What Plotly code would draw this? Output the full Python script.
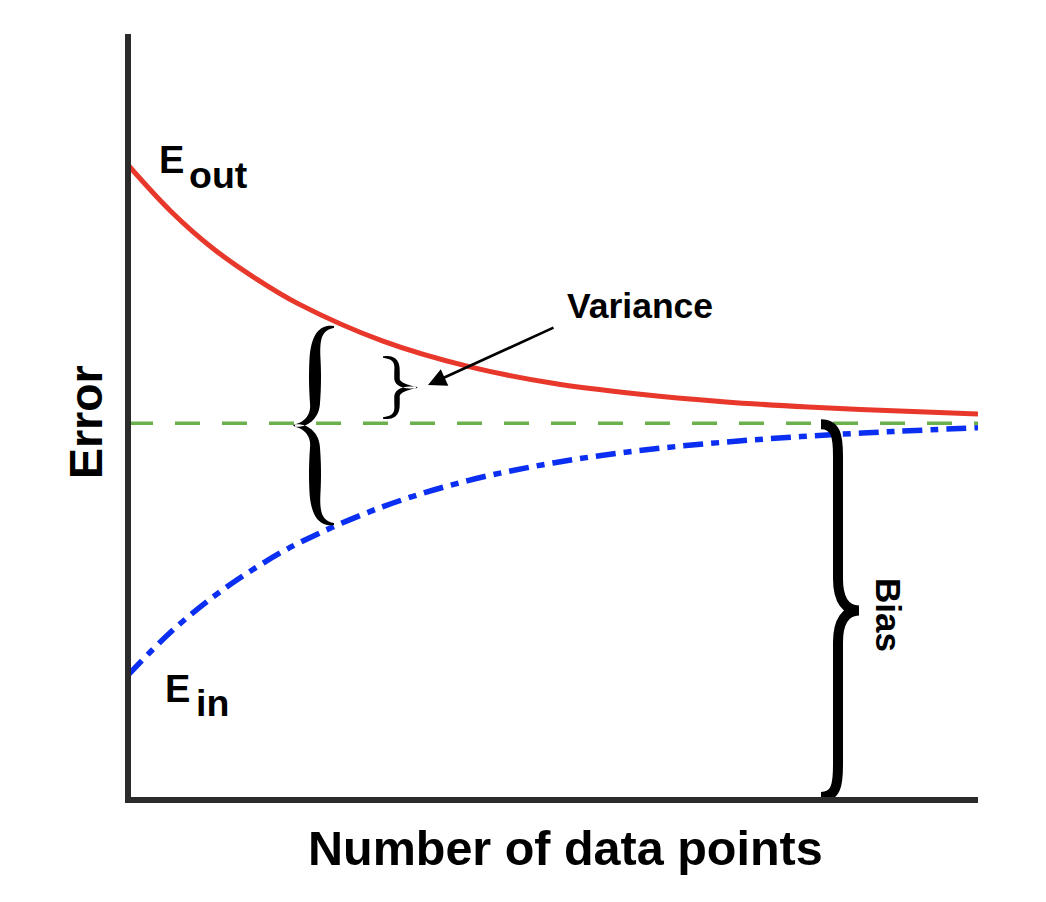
import math
import plotly.graph_objects as go

# ---- data ----
x_pts = [0, 0.5, 1, 1.5, 2, 3, 4, 5, 6, 7, 8, 9, 10]
e_out = [8.29, 7.69, 7.20, 6.81, 6.48, 5.99, 5.66, 5.44, 5.30, 5.20, 5.13, 5.08, 5.04]
e_in = [1.63, 2.19, 2.65, 3.03, 3.35, 3.83, 4.17, 4.40, 4.56, 4.67, 4.75, 4.81, 4.86]
bias_level = 4.92
x_range = [0, 10]
y_range = [0, 10]

# ---- layout geometry (target pixel positions on the page) ----
W, H = 1046, 902
PAGE_OFF = 8                        # default body margin of the html page
PL, PR, PT, PB = 128, 978, 34, 800  # plot area on the page
PW, PH = PR - PL, PB - PT


def px2paper_x(px):
    return (px - PL) / PW


def py2paper_y(py):
    return (PB - py) / PH


def data2paper_y(v):
    return (v - y_range[0]) / (y_range[1] - y_range[0])


fig = go.Figure()

fig.add_trace(go.Scatter(x=[x_range[0], x_range[1]], y=[bias_level, bias_level], mode="lines",
                         line=dict(color="#6ab04c", width=3.5, dash="25px,22px"), hoverinfo="skip"))
fig.add_trace(go.Scatter(x=x_pts, y=e_out, mode="lines", line_shape="spline",
                         line=dict(color="#e8382b", width=5), hoverinfo="skip"))
fig.add_trace(go.Scatter(x=x_pts, y=e_in, mode="lines", line_shape="spline",
                         line=dict(color="#0b2ff2", width=5.5, dash="20px,8px,8px,8px"), hoverinfo="skip"))


# ---- Bias brace (uniform stroke), pixel geometry -> paper ----
def bias_brace_path(x0, ytop, ybot, a=17, w=38, r=32):
    ymid = (ytop + ybot) / 2
    segs = [
        ("M", [(x0, ytop)]),
        ("C", [(x0 + 0.9 * a, ytop), (x0 + a, ytop + 0.4 * r), (x0 + a, ytop + r)]),
        ("L", [(x0 + a, ymid - r)]),
        ("C", [(x0 + a, ymid - 0.3 * r), (x0 + a + 0.4 * (w - a), ymid), (x0 + w, ymid)]),
        ("C", [(x0 + a + 0.4 * (w - a), ymid), (x0 + a, ymid + 0.3 * r), (x0 + a, ymid + r)]),
        ("L", [(x0 + a, ybot - r)]),
        ("C", [(x0 + a, ybot - 0.4 * r), (x0 + 0.9 * a, ybot), (x0, ybot)]),
    ]
    out = []
    for cmd, pts in segs:
        out.append(cmd + " " + " ".join(f"{px2paper_x(p[0]):.5f},{py2paper_y(p[1]):.5f}" for p in pts))
    return " ".join(out)


bias_top_py = PB - data2paper_y(bias_level) * PH + 1
fig.add_shape(type="path", xref="paper", yref="paper",
              path=bias_brace_path(821, bias_top_py, PB - 3),
              line=dict(color="black", width=10))


# ---- serif braces (tapered filled outline, pixel geometry -> paper) ----
def bez(p0, p1, p2, p3, n=24):
    out = []
    for i in range(n + 1):
        t = i / n
        mt = 1 - t
        out.append((mt**3 * p0[0] + 3 * mt**2 * t * p1[0] + 3 * mt * t**2 * p2[0] + t**3 * p3[0],
                    mt**3 * p0[1] + 3 * mt**2 * t * p1[1] + 3 * mt * t**2 * p2[1] + t**3 * p3[1]))
    return out


def half_center(x_end, x_arm, x_tip, y_start, y_mid, r1, r2):
    s = 1 if y_mid > y_start else -1
    pts = bez((x_end, y_start), (x_arm + 0.25 * (x_end - x_arm), y_start),
              (x_arm, y_start + s * 0.35 * r1), (x_arm, y_start + s * r1))
    pts += bez((x_arm, y_start + s * r1), (x_arm, y_start + s * r1), (x_arm, y_mid - s * r2),
               (x_arm, y_mid - s * r2), 12)[1:]
    pts += bez((x_arm, y_mid - s * r2), (x_arm, y_mid - s * 0.3 * r2),
               (x_tip + 0.45 * (x_arm - x_tip), y_mid), (x_tip, y_mid))[1:]
    return pts


def serif_brace(x_end, x_arm, x_tip, y_top, y_bot, r1, r2, wmax, wmin):
    y_mid = (y_top + y_bot) / 2
    top = half_center(x_end, x_arm, x_tip, y_top, y_mid, r1, r2)
    bot = half_center(x_end, x_arm, x_tip, y_bot, y_mid, r1, r2)
    pts = top + bot[::-1][1:]
    L = [0.0]
    for i in range(1, len(pts)):
        L.append(L[-1] + math.hypot(pts[i][0] - pts[i - 1][0], pts[i][1] - pts[i - 1][1]))
    tot = L[-1]
    left, right = [], []
    for i, p in enumerate(pts):
        u = L[i] / tot * 2
        u = u if u <= 1 else 2 - u
        hw = 0.5 * (wmin + (wmax - wmin) * math.sin(math.pi * min(max(u, 0), 1)) ** 0.9)
        a = pts[max(i - 1, 0)]
        b = pts[min(i + 1, len(pts) - 1)]
        tx, ty = b[0] - a[0], b[1] - a[1]
        n = math.hypot(tx, ty) or 1
        nx, ny = -ty / n, tx / n
        left.append((p[0] + nx * hw, p[1] + ny * hw))
        right.append((p[0] - nx * hw, p[1] - ny * hw))
    poly = left + right[::-1]
    return "M " + " L ".join(f"{px2paper_x(px):.5f},{py2paper_y(py):.5f}" for px, py in poly) + " Z"


# large "{" spanning E_out..E_in, tip on the bias line
fig.add_shape(type="path", xref="paper", yref="paper", fillcolor="black", line=dict(width=0),
              path=serif_brace(334, 315, 294, 327, 524, 32, 22, 12, 2.0))
# small "}" (variance)
fig.add_shape(type="path", xref="paper", yref="paper", fillcolor="black", line=dict(width=0),
              path=serif_brace(383, 397, 417, 357, 418, 12, 9, 5.5, 1.4))

bold = "Liberation Sans"

anns = [
    dict(x=640, y=306, text="<b>Variance</b>", font=dict(family=bold, size=35.5, color="black")),
    dict(x=889, y=615, text="<b>Bias</b>", textangle=90, font=dict(family=bold, size=35, color="black")),
    dict(x=171, y=160, text="<b>E</b>", font=dict(family=bold, size=38, color="black")),
    dict(x=218, y=175, text="<b>out</b>", font=dict(family=bold, size=37.5, color="black")),
    dict(x=177, y=689, text="<b>E</b>", font=dict(family=bold, size=38, color="black")),
    dict(x=212, y=703, text="<b>in</b>", font=dict(family=bold, size=37.5, color="black")),
    dict(x=565, y=848, text="<b>Number of data points</b>", font=dict(family=bold, size=48.5, color="black")),
    dict(x=86, y=422, text="<b>Error</b>", textangle=-90, font=dict(family=bold, size=46.5, color="black")),
]
for an in anns:
    an["x"] = px2paper_x(an["x"])
    an["y"] = py2paper_y(an["y"])
    fig.add_annotation(xref="paper", yref="paper", showarrow=False, xanchor="center", yanchor="middle", **an)

# arrow pointing at the small variance brace
fig.add_annotation(xref="paper", yref="paper", axref="pixel", ayref="pixel",
                   x=px2paper_x(428), y=py2paper_y(385), ax=555 - 428, ay=327 - 385, text="",
                   showarrow=True, arrowhead=2, arrowsize=1.4, arrowwidth=2.6, arrowcolor="black")

axis_common = dict(showgrid=False, zeroline=False, showticklabels=False, ticks="",
                   showline=False, fixedrange=True)
fig.update_xaxes(range=x_range, **axis_common)
fig.update_yaxes(range=y_range, **axis_common)

# axis lines
fig.add_shape(type="line", xref="paper", yref="paper", x0=0, x1=0, y0=py2paper_y(PB + 3), y1=1,
              line=dict(color="#2b2b2b", width=6))
fig.add_shape(type="line", xref="paper", yref="paper", x0=px2paper_x(PL - 3), x1=1, y0=0, y1=0,
              line=dict(color="#2b2b2b", width=6))

ml = PL - PAGE_OFF
mt = PT - PAGE_OFF
fig.update_layout(width=W, height=H,
                  margin=dict(l=ml, r=W - ml - PW, t=mt, b=H - mt - PH),
                  plot_bgcolor="white", paper_bgcolor="white", showlegend=False)

fig.write_html("out.html")
